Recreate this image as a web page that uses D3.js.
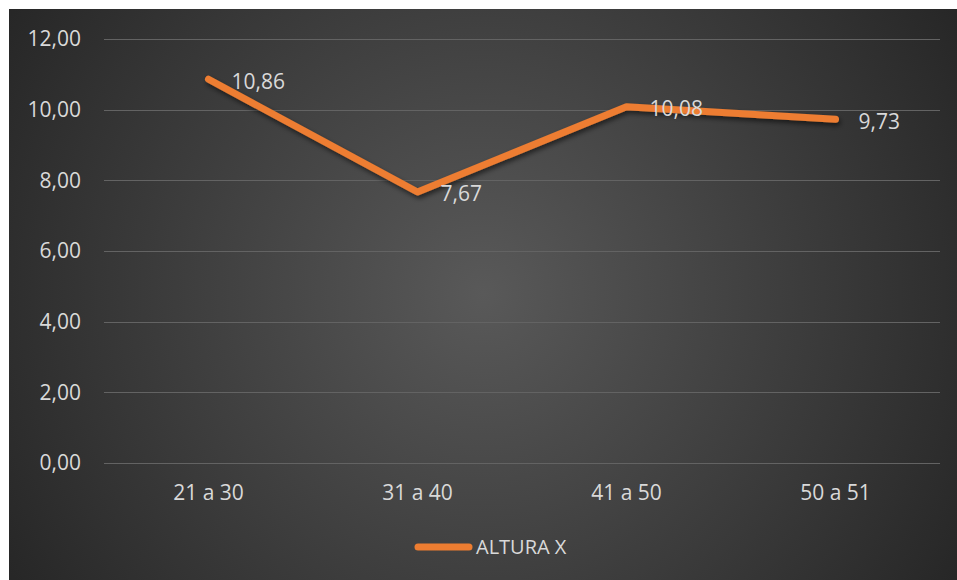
<!DOCTYPE html>
<html><head><meta charset="utf-8">
<script src="https://cdn.jsdelivr.net/npm/d3@7"></script>
<style>html,body{margin:0;padding:0;background:#fff;overflow:hidden}</style>
</head><body>
<script>
const categories = ["21 a 30", "31 a 40", "41 a 50", "50 a 51"];
const values = [10.86, 7.67, 10.08, 9.73];
const valueLabels = ["10,86", "7,67", "10,08", "9,73"];
const yTicks = [0, 2, 4, 6, 8, 10, 12];
const seriesName = "ALTURA X";

const W = 957, H = 580;
const svg = d3.select("body").append("svg").attr("width", W).attr("height", H);
const defs = svg.append("defs");
const rg = defs.append("radialGradient").attr("id", "bg")
  .attr("gradientUnits", "userSpaceOnUse").attr("cx", 483).attr("cy", 294).attr("r", 560);
rg.append("stop").attr("offset", "0").attr("stop-color", "#595959");
rg.append("stop").attr("offset", "1").attr("stop-color", "#262626");
const f = defs.append("filter").attr("id", "sh").attr("x", "-10%").attr("y", "-50%").attr("width", "120%").attr("height", "200%");
f.append("feDropShadow").attr("dx", 1.5).attr("dy", 3).attr("stdDeviation", 2.5).attr("flood-color", "#000").attr("flood-opacity", 0.55);

svg.append("rect").attr("x", 9).attr("y", 9).attr("width", W - 9).attr("height", H - 9).attr("fill", "url(#bg)");

const font = "'Open Sans', 'Noto Sans', sans-serif";
const textCol = "#d9d9d9";
const x = d3.scaleBand().domain(categories).range([104, 940]);
const y = d3.scaleLinear().domain([0, 12]).range([463, 39]);

// grid
svg.append("g").selectAll("line").data(yTicks).join("line")
  .attr("x1", 104).attr("x2", 940)
  .attr("y1", d => Math.round(y(d)) + 0.5).attr("y2", d => Math.round(y(d)) + 0.5)
  .attr("stroke", "#636363").attr("stroke-width", 1);

// y labels
const fmt = d => d.toFixed(2).replace(".", ",");
svg.append("g").selectAll("text").data(yTicks).join("text")
  .attr("x", 81).attr("y", d => y(d)).attr("dy", "0.35em")
  .attr("text-anchor", "end").attr("font-family", font).attr("font-size", 21)
  .attr("fill", textCol).text(fmt);

// x labels
svg.append("g").selectAll("text").data(categories).join("text")
  .attr("x", d => x(d) + x.bandwidth() / 2).attr("y", 493).attr("dy", "0.35em")
  .attr("text-anchor", "middle").attr("font-family", font).attr("font-size", 21)
  .attr("fill", textCol).text(d => d);

// line
const pts = categories.map((c, i) => [x(c) + x.bandwidth() / 2, y(values[i])]);
svg.append("path").attr("d", d3.line()(pts))
  .attr("fill", "none").attr("stroke", "#ED7D31").attr("stroke-width", 7)
  .attr("stroke-linecap", "round").attr("stroke-linejoin", "round")
  .attr("filter", "url(#sh)");

// data labels
svg.append("g").selectAll("text").data(pts).join("text")
  .attr("x", d => d[0] + 23).attr("y", d => d[1] + 2).attr("dy", "0.35em")
  .attr("font-family", font).attr("font-size", 21).attr("fill", textCol)
  .text((d, i) => valueLabels[i]);

// legend
const lg = svg.append("g");
lg.append("line").attr("x1", 418).attr("x2", 469).attr("y1", 547).attr("y2", 547)
  .attr("stroke", "#ED7D31").attr("stroke-width", 7).attr("stroke-linecap", "round");
lg.append("text").attr("x", 476).attr("y", 547).attr("dy", "0.35em")
  .attr("font-family", font).attr("font-size", 20).attr("fill", textCol).text(seriesName);
</script>
</body></html>
